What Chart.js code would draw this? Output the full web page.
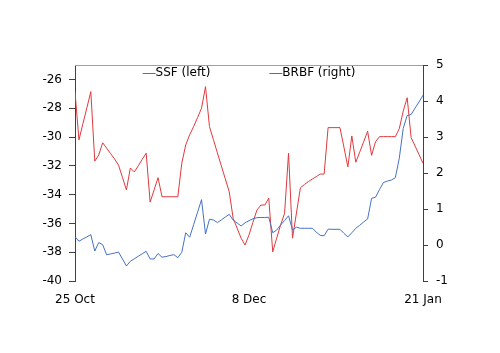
<!DOCTYPE html>
<html>
<head>
<meta charset="utf-8">
<script src="https://cdn.jsdelivr.net/npm/chart.js@4.4.7/dist/chart.umd.min.js"></script>
<style>
    html, body { margin: 0; padding: 0; background: #fff; }
    .chart-wrap { position: relative; width: 500px; height: 353px; }
</style>
</head>
<body>
<div class="chart-wrap"><canvas id="chart" width="500" height="353"></canvas></div>
<script>
// daily index 0..88, 25 Oct -> 21 Jan
var xTickPos = [0, 44, 88];
var xTickLabels = ["25 Oct", "8 Dec", "21 Jan"];
var leftTicks = [-40, -38, -36, -34, -32, -30, -28, -26];
var rightTicks = [-1, 0, 1, 2, 3, 4, 5];

var ssf = [
    -36.92, -37.24, -37.08, -36.94, -36.78, -37.92, -37.33, -37.48, -38.18, -38.12,
    -38.06, -37.99, -38.47, -38.96, -38.63, -38.46, -38.28, -38.11, -37.94, -38.47,
    -38.47, -38.09, -38.35, -38.30, -38.23, -38.17, -38.38, -38.01, -36.65, -36.96,
    -36.09, -35.22, -34.35, -36.74, -35.71, -35.76, -35.94, -35.76, -35.56, -35.37,
    -35.78, -35.97, -36.18, -35.96, -35.81, -35.68, -35.60, -35.59, -35.59, -35.57,
    -36.65, -36.46, -36.11, -35.80, -35.47, -36.46, -36.26, -36.34, -36.34, -36.34,
    -36.34, -36.60, -36.83, -36.86, -36.40, -36.41, -36.41, -36.41, -36.69, -36.94,
    -36.65, -36.34, -36.13, -35.90, -35.69, -34.26, -34.18, -33.65, -33.16, -33.06,
    -32.99, -32.83, -31.48, -29.40, -28.51, -28.44, -27.99, -27.57, -27.10
];

var brbf = [
    4.25, 2.92, 3.37, 3.81, 4.26, 2.33, 2.50, 2.84, 2.69, 2.54,
    2.39, 2.22, 1.88, 1.53, 2.14, 2.03, 2.20, 2.38, 2.55, 1.19,
    1.53, 1.87, 1.34, 1.34, 1.34, 1.34, 1.34, 2.27, 2.78, 3.06,
    3.29, 3.54, 3.80, 4.40, 3.29, 2.93, 2.56, 2.20, 1.84, 1.48,
    0.74, 0.47, 0.19, 0.00, 0.28, 0.63, 0.97, 1.11, 1.11, 1.30,
    -0.19, 0.19, 0.56, 0.88, 2.55, 0.19, 0.89, 1.59, 1.68, 1.76,
    1.83, 1.90, 1.97, 1.97, 3.26, 3.26, 3.26, 3.26, 2.72, 2.17,
    3.03, 2.30, 2.58, 2.87, 3.16, 2.49, 2.87, 3.01, 3.01, 3.01,
    3.01, 3.01, 3.23, 3.72, 4.09, 2.98, 2.75, 2.51, 2.27
];

function toPoints(arr) {
    return arr.map(function (v, i) { return { x: i, y: v }; });
}

function setTicks(list) {
    return function (scale) {
        scale.ticks = list.map(function (v) { return { value: v }; });
    };
}

var FONT = { family: "'DejaVu Sans', sans-serif", size: 12 };
var AXIS = "#404040";

// top border + legend drawn inside the plot area
var framePlugin = {
    id: "frame",
    afterDraw: function (chart) {
        var ctx = chart.ctx, a = chart.chartArea;
        ctx.save();
        ctx.strokeStyle = "#a0a0a0";
        ctx.lineWidth = 1;
        ctx.beginPath();
        ctx.moveTo(a.left, a.top + 0.5);
        ctx.lineTo(a.right, a.top + 0.5);
        ctx.stroke();

        ctx.font = "12px 'DejaVu Sans'";
        ctx.textBaseline = "middle";
        var sw = 13, gap = 59;
        var ds = chart.data.datasets;
        var widths = ds.map(function (d) { return sw + ctx.measureText(d.label).width; });
        var total = widths[0] + gap + widths[1];
        var x = (a.left + a.right) / 2 - total / 2;
        var y = a.top + 8;
        ds.forEach(function (d, i) {
            ctx.strokeStyle = d.borderColor;
            ctx.beginPath();
            ctx.moveTo(x, y + 0.5);
            ctx.lineTo(x + sw, y + 0.5);
            ctx.stroke();
            ctx.fillStyle = "#000";
            ctx.fillText(d.label, x + sw, y);
            x += widths[i] + gap;
        });
        ctx.restore();
    }
};

new Chart(document.getElementById("chart"), {
    type: "line",
    data: {
        datasets: [
            { label: "SSF (left)", data: toPoints(ssf), yAxisID: "y", borderColor: "#4472c4", borderWidth: 1, pointRadius: 0, tension: 0, fill: false },
            { label: "BRBF (right)", data: toPoints(brbf), yAxisID: "y1", borderColor: "#e0393e", borderWidth: 1, pointRadius: 0, tension: 0, fill: false }
        ]
    },
    options: {
        responsive: false,
        animation: false,
        layout: { padding: { top: 65, left: 0, right: 0, bottom: 0 } },
        plugins: { legend: { display: false }, tooltip: { enabled: false } },
        scales: {
            x: {
                type: "linear",
                min: 0,
                max: 88,
                afterBuildTicks: setTicks(xTickPos),
                afterFit: function (s) { s.height = 72; },
                grid: { display: false, drawTicks: false },
                border: { display: false },
                ticks: {
                    autoSkip: false, maxRotation: 0, padding: 12, color: "#000", font: FONT,
                    callback: function (v, i) { return xTickLabels[i]; }
                }
            },
            y: {
                position: "left",
                min: -40,
                max: -25,
                afterBuildTicks: setTicks(leftTicks),
                afterFit: function (s) { s.width = 75; },
                grid: { drawOnChartArea: false, color: AXIS, tickLength: 6 },
                border: { display: true, color: AXIS },
                ticks: { padding: 7, color: "#000", font: FONT }
            },
            y1: {
                position: "right",
                min: -1,
                max: 5,
                afterBuildTicks: setTicks(rightTicks),
                afterFit: function (s) { s.width = 77; },
                grid: { drawOnChartArea: false, color: AXIS, tickLength: 5 },
                border: { display: true, color: AXIS },
                ticks: { padding: 8, color: "#000", font: FONT }
            }
        }
    },
    plugins: [framePlugin]
});
</script>
</body>
</html>
